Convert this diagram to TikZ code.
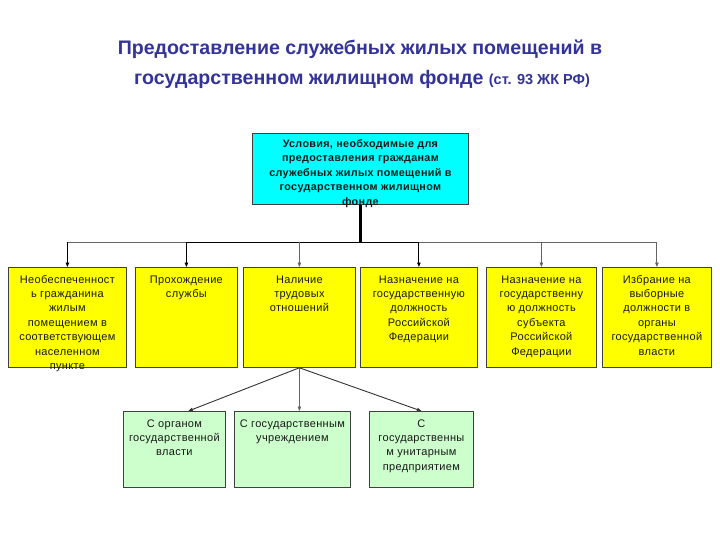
\documentclass[tikz,border=0pt]{standalone}
\usepackage{fontspec}
\setmainfont{Liberation Sans}
\newfontfamily\boxfont[LetterSpace=3]{Liberation Sans}
\usetikzlibrary{arrows.meta,calc}
\definecolor{titleblue}{RGB}{51,51,153}
\definecolor{cyanfill}{RGB}{0,255,255}
\definecolor{yellowfill}{RGB}{255,255,0}
\definecolor{greenfill}{RGB}{204,255,204}
\definecolor{linegray}{RGB}{100,100,100}
\newcommand{\btext}[4][5.6pt]{\parbox[t][#3pt][t]{#2pt}{\centering\vspace*{#1}\strut #4\par}}
\tikzset{
  box/.style={draw=black!75, line width=0.8pt, inner sep=0pt, anchor=north west, text=black!90,
    font=\boxfont\fontsize{11}{14.4}\selectfont},
  topbox/.style={box, fill=cyanfill, font=\boxfont\bfseries\fontsize{10.8}{14.5}\selectfont},
  ybox/.style={box, fill=yellowfill},
  gbox/.style={box, fill=greenfill},
  titletext/.style={text=titleblue, font=\bfseries\fontsize{19.6}{22}\selectfont, anchor=base},
  conn/.style={line width=0.9pt, -{Triangle[length=4.5pt,width=3.5pt]}},
}
\begin{document}
\begin{tikzpicture}[x=1pt,y=-1pt]
\useasboundingbox[fill=white] (0,0) rectangle (720,540);
\node[titletext] (t1) at (360,55) {Предоставление служебных жилых помещений в};
\node[titletext] (t2) at (362,85) {государственном жилищном фонде {\fontsize{14.5}{16}\selectfont (ст. 93 ЖК РФ)}};

\node[topbox] (top) at (252,133) {\btext[3.6pt]{216}{71}{Условия, необходимые для\\предоставления гражданам\\служебных жилых помещений в\\государственном жилищном\\фонде}};

\node[ybox] (y1) at (8,267) {\btext{118}{100}{Необеспеченност\\ь гражданина\\жилым\\помещением в\\соответствующем\\населенном\\пункте}};
\node[ybox] (y2) at (135,267) {\btext{102}{100}{Прохождение\\службы}};
\node[ybox] (y3) at (243,267) {\btext{112}{100}{Наличие\\трудовых\\отношений}};
\node[ybox] (y4) at (360,267) {\btext{117}{100}{Назначение на\\государственную\\должность\\Российской\\Федерации}};
\node[ybox] (y5) at (486,267) {\btext{110}{100}{Назначение на\\государственну\\ю должность\\субъекта\\Российской\\Федерации}};
\node[ybox] (y6) at (602,267) {\btext{109}{100}{Избрание на\\выборные\\должности в\\органы\\государственной\\власти}};

\node[gbox] (g1) at (123,411) {\btext{102}{76}{С органом\\государственной\\власти}};
\node[gbox] (g2) at (234,411) {\btext{116}{76}{С государственным\\учреждением}};
\node[gbox] (g3) at (369,411) {\btext{104}{76}{С\\государственны\\м унитарным\\предприятием}};

\coordinate (bus) at (361,242);
\draw[line width=2.2pt] (top.south) -- (top.south |- bus);
\draw[linegray, line width=1pt] (bus -| y1.north) -- (bus -| y6.north);
\draw[black, line width=1pt] (bus -| y2.north) -- (bus -| y4.north);
\draw[conn] (bus -| y1.north) -- (y1.north);
\draw[conn] (bus -| y2.north) -- (y2.north);
\draw[conn, linegray] (bus -| y3.north) -- (y3.north);
\draw[conn] (bus -| y4.north) -- (y4.north);
\draw[conn, linegray] (bus -| y5.north) -- (y5.north);
\draw[conn, linegray] (bus -| y6.north) -- (y6.north);

\draw[conn, black!80] (y3.south) -- ([xshift=14pt]g1.north);
\draw[conn, linegray] (y3.south) -- (y3.south |- g2.north);
\draw[conn, black!80] (y3.south) -- (g3.north);
\end{tikzpicture}
\end{document}
